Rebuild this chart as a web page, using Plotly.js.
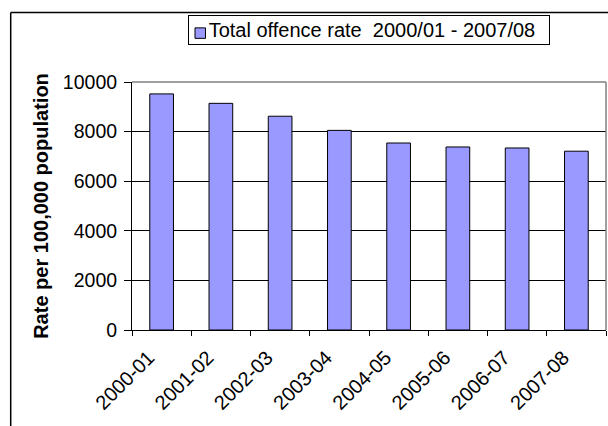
<!DOCTYPE html>
<html>
<head>
<meta charset="utf-8">
<script src="https://cdn.plot.ly/plotly-3.0.1.min.js"></script>
<style>html,body{margin:0;padding:0;background:#fff;}#chart{width:608px;height:426px;}</style>
</head>
<body>
<div id="chart"></div>
<script>
const categories = ["2000-01","2001-02","2002-03","2003-04","2004-05","2005-06","2006-07","2007-08"];
const offenceRate = [9520, 9140, 8620, 8050, 7540, 7380, 7340, 7210];
const seriesName = "Total offence rate  2000/01 - 2007/08";
const yTitle = "Rate per 100,000 population";
const pageText = "rate, per 100,000 population";

const barColor = "#9999FF";

const trace = {
  type: "bar",
  x: categories,
  y: offenceRate,
  name: seriesName,
  width: 0.4,
  marker: {color: barColor, line: {color: "#000000", width: 1}},
  showlegend: false
};

// pixel -> paper helpers (plot area: x 132..606, y 81.7..330)
const px = v => (v - 132) / 474;
const py = v => (330 - v) / 248.3;

const layout = {
  width: 608, height: 426,
  margin: {l: 132, r: 2, t: 82, b: 96, pad: 0},
  paper_bgcolor: "#ffffff", plot_bgcolor: "#ffffff",
  font: {family: "'Liberation Sans', Arial, sans-serif", size: 20, color: "#000"},
  showlegend: false,
  xaxis: {
    type: "category",
    tickangle: -45,
    ticks: "outside", ticklen: 5, tickcolor: "#000",
    tickson: "boundaries",
    showline: true, linecolor: "#000", linewidth: 1,
    showgrid: false,
    tickfont: {size: 20},
    ticklabelstandoff: 7, ticklabelshift: -13
  },
  yaxis: {
    range: [0, 10000], dtick: 2000, tickformat: "d",
    ticks: "outside", ticklen: 7, tickcolor: "#000",
    showline: true, linecolor: "#000", linewidth: 1,
    showgrid: true, gridcolor: "#000", gridwidth: 1,
    zeroline: false,
    tickfont: {size: 19.5},
    ticklabelstandoff: 3,
    title: {text: "<b>" + yTitle + "</b>", font: {size: 20}, standoff: 8}
  },
  shapes: [
    {type: "line", xref: "paper", yref: "paper", x0: 0, x1: 1, y0: 1, y1: 1, line: {color: "#808080", width: 1.5}},
    {type: "line", xref: "paper", yref: "paper", x0: 1, x1: 1, y0: 0, y1: 1, line: {color: "#808080", width: 1.5}},
    {type: "line", xref: "paper", yref: "paper", x0: px(10.7), x1: px(640), y0: py(12), y1: py(12), line: {color: "#000", width: 1.5}},
    {type: "line", xref: "paper", yref: "paper", x0: px(10.7), x1: px(10.7), y0: py(12), y1: py(460), line: {color: "#000", width: 1.5}},
    // legend swatch
    {type: "rect", xref: "paper", yref: "paper", x0: px(195), x1: px(205.5), y0: py(27.5), y1: py(38), fillcolor: barColor, line: {color: "#000", width: 1}}
  ],
  annotations: [
    {xref: "paper", yref: "paper", x: px(188), y: py(15), xanchor: "left", yanchor: "top", showarrow: false,
     text: "&nbsp;&nbsp;&nbsp;" + seriesName + "&nbsp;&nbsp;", font: {size: 20},
     bordercolor: "#000", borderwidth: 1, borderpad: 3, bgcolor: "rgba(0,0,0,0)"},
    {xref: "paper", yref: "paper", x: px(49), y: py(1.8), xanchor: "left", yanchor: "bottom", showarrow: false,
     text: "<i>" + pageText + "</i>", font: {family: "'Liberation Serif', serif", size: 25}}
  ]
};

Plotly.newPlot("chart", [trace], layout, {displayModeBar: false, staticPlot: true});
</script>
</body>
</html>
